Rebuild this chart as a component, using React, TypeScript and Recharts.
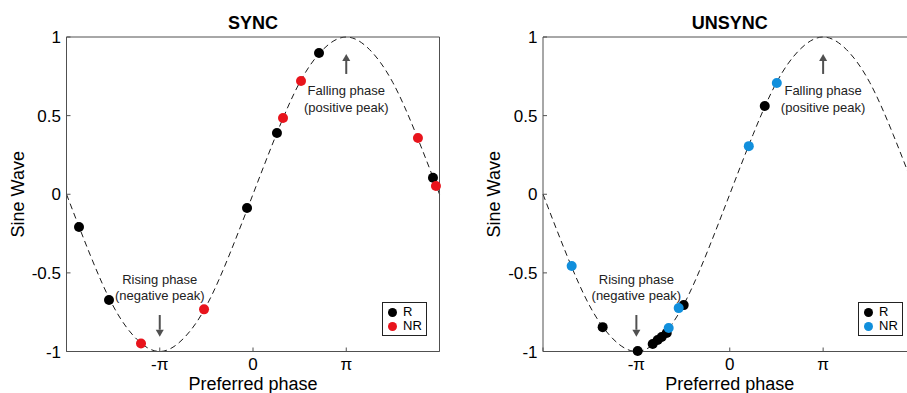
import React from 'react';
import { ComposedChart, Line, Scatter, XAxis, YAxis, ReferenceLine, Legend } from 'recharts';

// reference sine wave, x in units of pi
const CURVE_X = [-2, -1.75, -1.5, -1.25, -1, -0.75, -0.5, -0.25, 0, 0.25, 0.5, 0.75, 1, 1.25, 1.5, 1.75, 2];
const CURVE_Y = [0, -0.38, -0.71, -0.92, -1, -0.92, -0.71, -0.38, 0, 0.38, 0.71, 0.92, 1, 0.92, 0.71, 0.38, 0];

const PHASE_TICKS = [-2, -1, 0, 1, 2];
const PHASE_LABELS = ['', '-π', '0', 'π', ''];
const WAVE_TICKS = [-1, -0.5, 0, 0.5, 1];
const GROUPS = ['R', 'NR'];

// SYNC
const SYNC_R_X = [-1.866, -1.544, -0.064, 0.257, 0.708, 1.93];
const SYNC_R_Y = [-0.208, -0.672, -0.088, 0.389, 0.898, 0.105];
const SYNC_NR_X = [-1.201, -0.525, 0.322, 0.515, 1.769, 1.962];
const SYNC_NR_Y = [-0.949, -0.732, 0.485, 0.72, 0.358, 0.052];

// UNSYNC
const UNSYNC_R_X = [-1.361, -0.986, -0.825, -0.772, -0.729, -0.675, -0.493, 0.375];
const UNSYNC_R_Y = [-0.845, -0.997, -0.952, -0.927, -0.908, -0.882, -0.705, 0.561];
const UNSYNC_NR_X = [-1.693, -0.654, -0.547, 0.204, 0.504];
const UNSYNC_NR_Y = [-0.456, -0.851, -0.724, 0.306, 0.707];

const FRAME = '#505050';
const toPoints = (xs: number[], ys: number[]) => xs.map((x, i) => ({ x, y: ys[i] }));
const curve = toPoints(CURVE_X, CURVE_Y);

const dot = (color: string) => (p: any) => <circle cx={p.cx} cy={p.cy} r={5} fill={color} />;

const arrowShape = (lines: string[], below: boolean) => (p: any) => {
  const { x1, y1, x2, y2 } = p;
  const dir = y2 > y1 ? 1 : -1;
  const base = y2 - dir * 7;
  const ty = below ? [y1 + 21.5, y1 + 38] : [y1 - 31, y1 - 15];
  return (
    <g>
      <line x1={x1} y1={y1} x2={x2} y2={base} stroke={FRAME} strokeWidth={2} />
      <polygon points={`${x2 - 4},${base} ${x2 + 4},${base} ${x2},${y2}`} fill={FRAME} />
      {lines.map((t, i) => (
        <text key={i} x={x1} y={ty[i]} textAnchor="middle" fontSize={13} fill="#222">{t}</text>
      ))}
    </g>
  );
};

const legendBox = (p: any) => {
  const items = (p.payload || [])
    .filter((e: any) => e.type !== 'none')
    .sort((a: any, b: any) => GROUPS.indexOf(a.value) - GROUPS.indexOf(b.value));
  return (
    <div style={{ width: 45, height: 34, border: '1px solid #222', background: '#fff', boxSizing: 'border-box', position: 'relative' }}>
      {items.map((e: any, i: number) => (
        <div
          key={e.value}
          style={{
            position: 'absolute', left: 5, top: 2 + i * 14, height: 14, lineHeight: '14px',
            display: 'flex', alignItems: 'center', fontSize: 13, color: '#000',
          }}
        >
          <span style={{ width: 9, height: 9, borderRadius: 5, background: e.color, display: 'inline-block', marginRight: 6 }} />
          {e.value}
        </div>
      ))}
    </div>
  );
};

interface PanelProps {
  title: string;
  left: number;
  width: number;
  margin: { top: number; right: number; bottom: number; left: number };
  rX: number[];
  rY: number[];
  nrX: number[];
  nrY: number[];
  nrColor: string;
  legendLeft: number;
}

const Panel: React.FC<PanelProps> = ({ title, left, width, margin, rX, rY, nrX, nrY, nrColor, legendLeft }) => (
  <div style={{ position: 'absolute', left, top: 0 }}>
    <ComposedChart width={width} height={393} margin={margin}>
      <XAxis
        xAxisId="b" dataKey="x" type="number" domain={[-2, 2]} ticks={PHASE_TICKS}
        tickFormatter={(v: number) => PHASE_LABELS[PHASE_TICKS.indexOf(v)]}
        height={40} tickSize={-4} tickMargin={10.5}
        stroke={FRAME} tick={{ fill: '#000', fontSize: 17 }}
        label={{
          content: (p: any) => {
            const vb = p.viewBox || { x: 0, y: 0, width: 0 };
            return <text x={vb.x + vb.width / 2} y={vb.y + 38.5} textAnchor="middle" fontSize={18} fill="#000">Preferred phase</text>;
          },
        }}
      />
      <XAxis
        xAxisId="t" orientation="top" type="number" domain={[-2, 2]} ticks={PHASE_TICKS}
        height={10} tickSize={-4} tick={false} stroke={FRAME}
        label={{
          content: (p: any) => {
            const vb = p.viewBox || { x: 0, y: 0, width: 0, height: 0 };
            return <text x={vb.x + vb.width / 2} y={vb.y + vb.height - 8} textAnchor="middle" fontSize={18} fontWeight="bold" fill="#000">{title}</text>;
          },
        }}
      />
      <YAxis
        yAxisId="l" dataKey="y" type="number" domain={[-1, 1]} ticks={WAVE_TICKS}
        width={60} tickSize={-4} tickMargin={9.5}
        stroke={FRAME} tick={{ fill: '#000', fontSize: 17 }}
        label={{
          content: (p: any) => {
            const vb = p.viewBox || { x: 0, y: 0, width: 0, height: 0 };
            const bx = vb.x + vb.width - 43;
            const cy = vb.y + vb.height / 2;
            return <text x={bx} y={cy} transform={`rotate(-90, ${bx}, ${cy})`} textAnchor="middle" fontSize={18} fill="#000">Sine Wave</text>;
          },
        }}
      />
      <YAxis
        yAxisId="r" orientation="right" type="number" domain={[-1, 1]} ticks={WAVE_TICKS}
        width={10} tickSize={-4} tick={false} stroke={FRAME}
      />
      <Line
        xAxisId="b" yAxisId="l" data={curve} dataKey="y" type="natural"
        stroke="#1a1a1a" strokeWidth={1} strokeDasharray="6 4"
        dot={false} activeDot={false} legendType="none" isAnimationActive={false}
      />
      <ReferenceLine
        xAxisId="b" yAxisId="l" segment={[{ x: 1, y: 0.765 }, { x: 1, y: 0.892 }]}
        shape={arrowShape(['Falling phase', '(positive peak)'], true)}
      />
      <ReferenceLine
        xAxisId="b" yAxisId="l" segment={[{ x: -1, y: -0.768 }, { x: -1, y: -0.906 }]}
        shape={arrowShape(['Rising phase', '(negative peak)'], false)}
      />
      <Scatter
        xAxisId="b" yAxisId="l" name="R" data={toPoints(rX, rY)} fill="#000"
        shape={dot('#000')} isAnimationActive={false}
      />
      <Scatter
        xAxisId="b" yAxisId="l" name="NR" data={toPoints(nrX, nrY)} fill={nrColor}
        shape={dot(nrColor)} isAnimationActive={false}
      />
      <Legend
        layout="horizontal" verticalAlign="middle" align="center"
        content={legendBox}
        wrapperStyle={{ left: legendLeft, top: 302, width: 45, height: 34, bottom: 'auto' }}
      />
    </ComposedChart>
  </div>
);

export default function App() {
  return (
    <div
      style={{
        position: 'absolute', left: 0, top: 0, width: 907, height: 393, overflow: 'hidden',
        background: '#fff', fontFamily: '"Liberation Sans", Arial, sans-serif',
      }}
    >
      <Panel
        title="SYNC" left={0} width={460}
        margin={{ top: 27, right: 10.5, bottom: 1.5, left: 6.5 }}
        rX={SYNC_R_X} rY={SYNC_R_Y} nrX={SYNC_NR_X} nrY={SYNC_NR_Y}
        nrColor="#e8141c" legendLeft={382}
      />
      <Panel
        title="UNSYNC" left={460} width={480}
        margin={{ top: 27, right: 13.5, bottom: 1.5, left: 23 }}
        rX={UNSYNC_R_X} rY={UNSYNC_R_Y} nrX={UNSYNC_NR_X} nrY={UNSYNC_NR_Y}
        nrColor="#118fdc" legendLeft={398}
      />
    </div>
  );
}
